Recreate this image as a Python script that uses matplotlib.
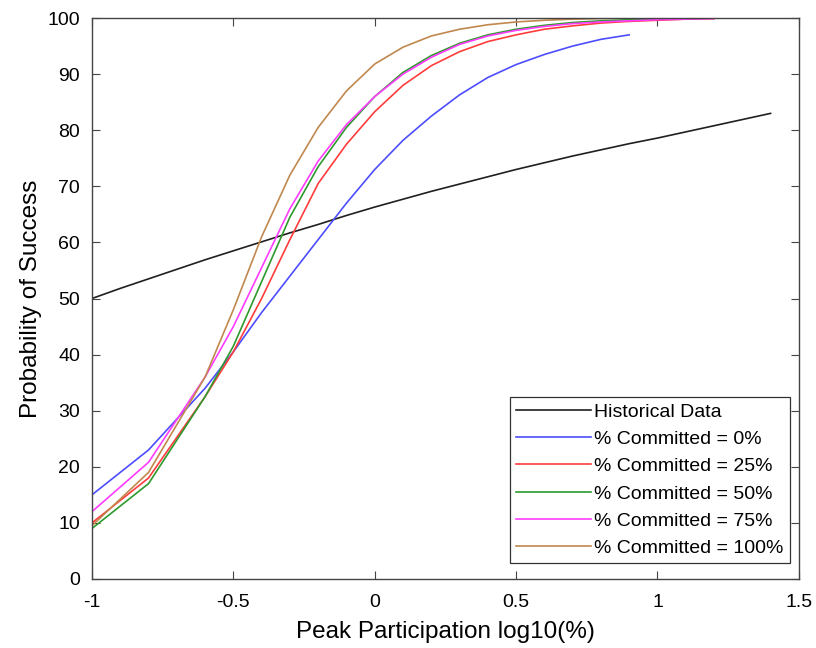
import matplotlib
matplotlib.use("Agg")
import matplotlib.pyplot as plt

plt.rcParams['font.family'] = ['Liberation Sans', 'DejaVu Sans']

# historical fit
hist_x = [-1.0, -0.9, -0.8, -0.7, -0.6, -0.5, -0.4, -0.3, -0.2, -0.1, 0.0, 0.1, 0.2,
          0.3, 0.4, 0.5, 0.6, 0.7, 0.8, 0.9, 1.0, 1.1, 1.2, 1.3, 1.4]
hist_y = [50.0, 51.8, 53.5, 55.2, 56.9, 58.5, 60.1, 61.7, 63.2, 64.8, 66.3, 67.7, 69.1,
          70.4, 71.7, 73.0, 74.2, 75.4, 76.5, 77.6, 78.6, 79.7, 80.8, 81.9, 83.0]

# simulated curves
sim_x = [-1.0, -0.8, -0.6, -0.5, -0.4, -0.3, -0.2, -0.1, 0.0, 0.1, 0.2, 0.3,
         0.4, 0.5, 0.6, 0.7, 0.8, 0.9, 1.0, 1.1, 1.2]
blue_y = [15.0, 23.0, 34.0, 40.5, 47.5, 54.0, 60.5, 67.0, 73.0, 78.2, 82.5, 86.3,
          89.4, 91.7, 93.5, 95.0, 96.2, 97.0]
red_y = [10.0, 18.0, 32.5, 40.5, 50.0, 60.5, 70.5, 77.5, 83.3, 88.0, 91.5, 94.0,
         95.8, 97.0, 98.0, 98.6, 99.1, 99.4, 99.6, 99.8, 99.9]
green_y = [9.0, 17.0, 32.5, 41.5, 53.0, 64.5, 73.5, 80.5, 86.0, 90.3, 93.3, 95.5,
           97.0, 98.0, 98.7, 99.2, 99.5, 99.7, 99.8, 99.9, 100.0]
magenta_y = [12.0, 20.8, 36.0, 45.0, 55.5, 66.0, 74.5, 81.0, 86.0, 90.0, 93.0, 95.3,
             96.8, 97.8, 98.5, 99.0, 99.3, 99.5, 99.7, 99.8, 99.9]
brown_y = [9.5, 19.0, 36.0, 48.0, 61.0, 72.0, 80.5, 87.0, 91.8, 94.8, 96.8, 98.0,
           98.8, 99.3, 99.6, 99.8, 99.9, 100.0, 100.0, 100.0, 100.0]

labels = ['Historical Data', '% Committed = 0%', '% Committed = 25%',
          '% Committed = 50%', '% Committed = 75%', '% Committed = 100%']
colors = ['#202020', '#4d4dff', '#ff3c3c', '#2e9a2e', '#ff3cff', '#c0884e']

fig = plt.figure(figsize=(8.16, 6.48), dpi=100)
ax = fig.add_axes([0.1127, 0.1065, 0.8663, 0.8657])

ax.plot(hist_x, hist_y, color=colors[0], lw=1.2, label=labels[0])
sims = [blue_y, red_y, green_y, magenta_y, brown_y]
for ys, c, lab in zip(sims, colors[1:], labels[1:]):
    ax.plot(sim_x[:len(ys)], ys, color=c, lw=1.2, label=lab)

ax.set_xlim(-1, 1.5)
ax.set_ylim(0, 100)
ax.set_xticks([-1, -0.5, 0, 0.5, 1, 1.5])
ax.set_xticklabels(['-1', '-0.5', '0', '0.5', '1', '1.5'])
ax.set_yticks(range(0, 101, 10))
ax.tick_params(direction='in', top=True, right=True, labelsize=14, length=6,
               width=0.8, color='#444444')
ax.tick_params(axis='x', pad=11)
ax.tick_params(axis='y', pad=8.6)
for s in ax.spines.values():
    s.set_color('#444444')
    s.set_linewidth(1.0)

ax.set_xlabel('Peak Participation log10(%)', fontsize=17.5, labelpad=7)
ax.set_ylabel('Probability of Success', fontsize=17.5, labelpad=4)

leg = ax.legend(loc='lower right', bbox_to_anchor=(0.987, 0.0285), borderaxespad=0,
                fontsize=14, handlelength=3.85, handletextpad=0.2,
                labelspacing=0.5, borderpad=0.3, fancybox=False, framealpha=1)
leg.get_frame().set_edgecolor('#333333')
leg.get_frame().set_linewidth(0.9)

fig.savefig('out.png', dpi=100)
